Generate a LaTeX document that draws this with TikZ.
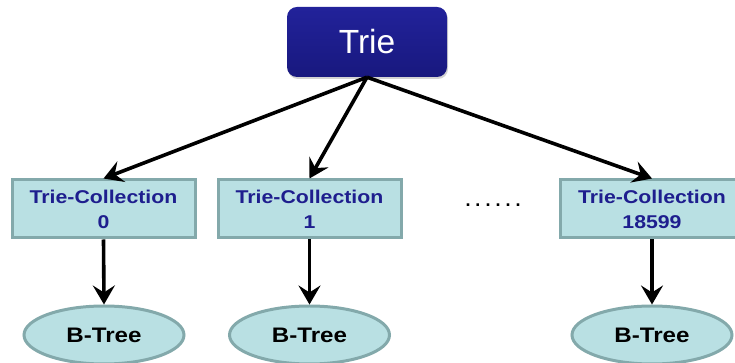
\documentclass[tikz,border=0pt]{standalone}
\usepackage{fontspec}
\setsansfont{Liberation Sans}
\newfontfamily\boxfont[FakeStretch=1.15]{Liberation Sans}
\usepackage{tikz}
\usetikzlibrary{arrows.meta}
\usetikzlibrary{shapes.geometric}
\usetikzlibrary{shadows}
\usetikzlibrary{calc}

\definecolor{trieblue}{HTML}{22229A}
\definecolor{triedark}{HTML}{18187E}
\definecolor{boxfill}{HTML}{B9E0E3}
\definecolor{boxline}{HTML}{83A9AB}
\definecolor{boxtext}{HTML}{1E1E8E}

\begin{document}
\begin{tikzpicture}[x=1pt, y=1pt,
    rootbox/.style={draw=none, rounded corners=10pt, top color=trieblue, bottom color=triedark,
      minimum width=160pt, minimum height=70pt, text=white,
      drop shadow={shadow xshift=1pt, shadow yshift=-2pt, opacity=0.35},
      font=\sffamily\fontsize{33.5}{36}\selectfont},
    collbox/.style={draw=boxline, line width=3pt, fill=boxfill, minimum width=183pt, minimum height=58pt,
      text=boxtext, align=center, inner sep=0pt,
      font=\boxfont\bfseries\fontsize{18.5}{25}\selectfont},
    treenode/.style={ellipse, draw=boxline, line width=3pt, fill=boxfill, minimum width=160pt,
      minimum height=58pt, inner sep=0pt, font=\boxfont\bfseries\fontsize{21}{24}\selectfont},
    link/.style={-{Stealth[length=19pt, width=22pt, inset=7pt]}, line width=3.6pt}]
    \useasboundingbox (0,0) rectangle (735,363);

    % draw root
    \node[rootbox] (trie) at (367,321) {Trie};

    % draw collections
    \node[collbox] (coll0) at (103.5,154) {Trie-Collection\\0};
    \node[collbox] (coll1) at (309.5,154) {Trie-Collection\\1};
    \node[collbox] (coll2) at (652,154) {Trie-Collection\\18599};
    \node[font=\sffamily\bfseries\fontsize{18}{20}\selectfont] (dots) at (493,158)
      {.\hspace{5pt}.\hspace{5pt}.\hspace{5pt}.\hspace{5pt}.\hspace{5pt}.};

    % draw b-trees
    \foreach \name/\x in {0/104, 1/309.5, 2/652}
      \node[treenode] (tree\name) at (\x,28) {B-Tree};

    % draw arrows
    \foreach \name in {0,1,2} {
      \draw[link] (trie.south) -- (coll\name.north);
      \draw[link] (coll\name.south) -- (tree\name.north);
    }
  \end{tikzpicture}
\end{document}
